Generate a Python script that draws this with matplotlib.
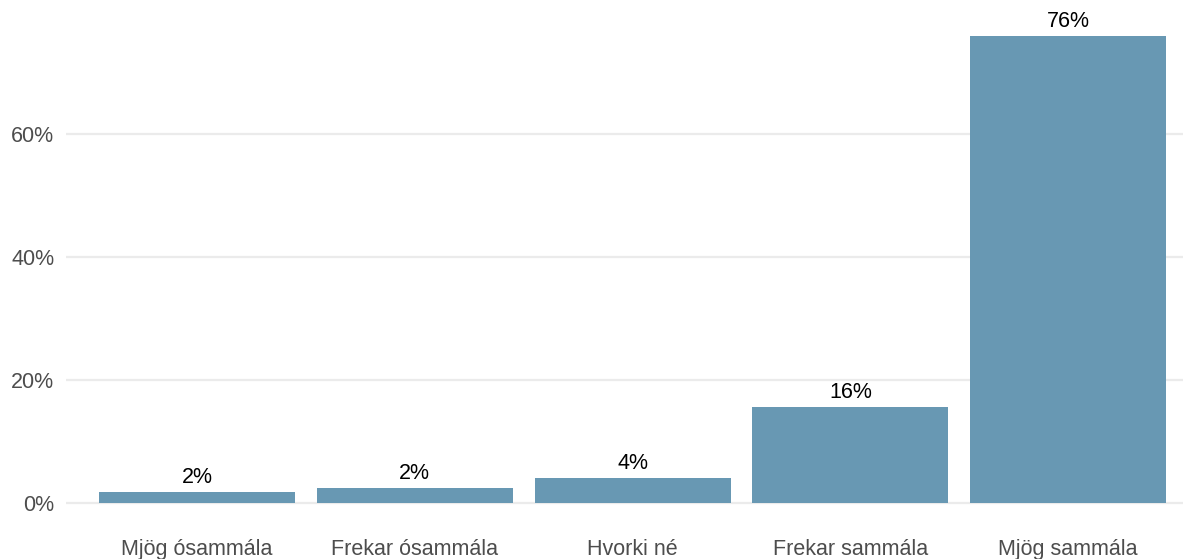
import matplotlib
matplotlib.use("Agg")
import matplotlib.pyplot as plt
from matplotlib.ticker import FuncFormatter

categories = ["Mjög ósammála", "Frekar ósammála", "Hvorki né", "Frekar sammála", "Mjög sammála"]
values = [1.75, 2.4, 4.05, 15.6, 76.05]
yticks = [0, 20, 40, 60]

bar_color = "#6898B3"
grid_color = "#EBEBEB"

plt.rcParams['font.family'] = ['Liberation Sans', 'DejaVu Sans']

fig = plt.figure(figsize=(11.83, 5.59), dpi=100)
W, H = 1183, 559
left_px, right_px = 66.3, 66.3 + 5.2 * 217.8
top_px, bottom_px = 12.3, 526.4
ax = fig.add_axes([left_px / W, (H - bottom_px) / H, (right_px - left_px) / W, (bottom_px - top_px) / H])

x = list(range(len(categories)))
ax.bar(x, values, width=0.9, color=bar_color, zorder=2)
for xi, v in zip(x, values):
    ax.annotate(f"{round(v):.0f}%", (xi, v), xytext=(0, 3), textcoords="offset points",
                ha="center", va="bottom", fontsize=15.5, color="black")

vmax = max(values)
ax.set_ylim(-0.05 * vmax, vmax * 1.05)
ax.set_xlim(-0.6, len(categories) - 0.4)
ax.set_yticks(yticks)
ax.yaxis.set_major_formatter(FuncFormatter(lambda v, p: f"{v:.0f}%"))
ax.set_xticks(x)
ax.set_xticklabels(categories)
ax.tick_params(axis="both", length=0, labelsize=15.5, labelcolor="#4D4D4D")
ax.tick_params(axis="y", pad=8.5)
ax.tick_params(axis="x", pad=9)
ax.grid(axis="y", color=grid_color, linewidth=1.6, zorder=0)
ax.grid(axis="x", visible=False)
for s in ax.spines.values():
    s.set_visible(False)
ax.set_axisbelow(True)

fig.savefig("out.png", dpi=100)
